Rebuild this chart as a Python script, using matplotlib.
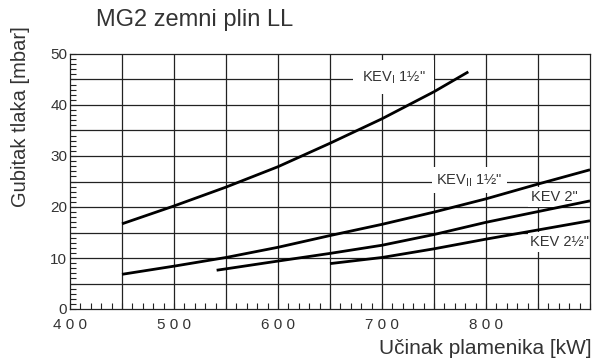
import matplotlib
matplotlib.use("Agg")
import matplotlib.pyplot as plt
from matplotlib.ticker import MultipleLocator

plt.rcParams['font.family'] = ['Liberation Sans', 'DejaVu Sans']

kev1_x = [450, 500, 550, 600, 650, 700, 750, 783]
kev1_y = [16.7, 20.2, 23.9, 27.9, 32.5, 37.3, 42.6, 46.5]

kev2_x = [450, 500, 550, 600, 650, 700, 750, 800, 850, 900]
kev2_y = [6.8, 8.4, 10.1, 12.1, 14.4, 16.6, 19.0, 21.6, 24.5, 27.3]

kev_2in_x = [541, 600, 650, 700, 750, 800, 850, 900]
kev_2in_y = [7.6, 9.4, 10.9, 12.5, 14.6, 17.0, 19.1, 21.2]

kev_25_x = [650, 700, 750, 800, 850, 900]
kev_25_y = [8.9, 10.1, 11.8, 13.7, 15.5, 17.3]

xticks = [400, 500, 600, 700, 800]
xticklabels = ["4 0 0", "5 0 0", "6 0 0", "7 0 0", "8 0 0"]
yticks = [0, 10, 20, 30, 40, 50]

txt = '#333333'
fig = plt.figure(figsize=(5.96, 3.62), dpi=100)
ax = fig.add_axes([70/596, 1-309/362, 520/596, 255/362])
ax.set_xlim(400, 900)
ax.set_ylim(0, 50)

ax.set_xticks(xticks)
ax.set_xticklabels(xticklabels)
ax.set_yticks(yticks)
ax.xaxis.set_minor_locator(MultipleLocator(10))
ax.yaxis.set_minor_locator(MultipleLocator(1))
ax.tick_params(axis='both', which='major', direction='in', length=4, width=0.8,
               labelsize=11, labelcolor=txt, colors='#222222')
ax.tick_params(axis='both', which='minor', direction='in', length=4, width=0.8, colors='#222222')
ax.tick_params(axis='x', which='major', pad=6.5)
ax.tick_params(axis='y', which='major', pad=2)

for xv in range(450, 900, 50):
    ax.axvline(xv, color='#222222', lw=0.9, zorder=1)
for yv in range(5, 50, 5):
    ax.axhline(yv, color='#222222', lw=0.9, zorder=1)
for s in ax.spines.values():
    s.set_color('#222222')
    s.set_linewidth(0.9)

for xs, ys in [(kev1_x, kev1_y), (kev2_x, kev2_y), (kev_2in_x, kev_2in_y), (kev_25_x, kev_25_y)]:
    ax.plot(xs, ys, color='black', lw=2, zorder=3, solid_capstyle='butt')

ax.text(711, 45.5, 'KEV$_{\\mathregular{I}}$ 1½"', fontsize=10.5, color=txt,
        ha='center', va='center', bbox=dict(facecolor='white', edgecolor='none', pad=6), zorder=2)
ax.text(784, 25.3, 'KEV$_{\\mathregular{II}}$ 1½"', fontsize=10.5, color=txt,
        ha='center', va='center', bbox=dict(facecolor='white', edgecolor='none', pad=3), zorder=2)
ax.text(888, 22.0, 'KEV 2"', fontsize=10.5, color=txt, ha='right', va='center',
        bbox=dict(facecolor='white', edgecolor='none', pad=2), zorder=2)
ax.text(899.5, 13.1, 'KEV 2½"', fontsize=10.5, color=txt, ha='right', va='center',
        bbox=dict(facecolor='white', edgecolor='none', pad=2), zorder=2)

fig.text(195/596, 1-20/362, 'MG2 zemni plin LL', fontsize=17, color=txt,
         ha='center', va='center')
fig.text(592/596, 1-348/362, 'Učinak plamenika [kW]', fontsize=15, color=txt,
         ha='right', va='center')
fig.text(21/596, 1-117/362, 'Gubitak tlaka [mbar]', fontsize=14.5, color=txt,
         ha='center', va='center', rotation=90)

fig.savefig('out.png', dpi=100)
